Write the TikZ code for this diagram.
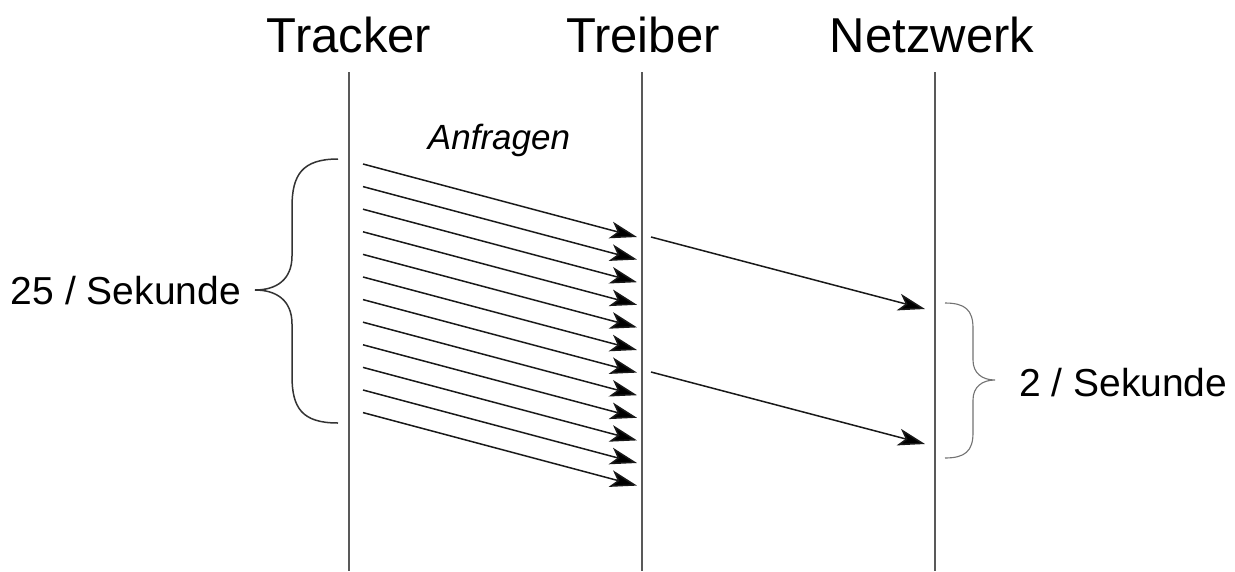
\documentclass[tikz,border=0pt]{standalone}
\usepackage{fontspec}
\setmainfont{Liberation Sans}
\usetikzlibrary{arrows.meta}
\begin{document}
\begin{tikzpicture}[x=1pt,y=-1pt,
  lane/.style={line width=1.6pt,draw=black!65},
  msg/.style={line width=1.5pt,draw=black!90,-{Stealth[length=27pt,width=17pt,inset=7pt,fill=black]}},
  head/.style={font=\fontsize{49}{52}\selectfont,inner sep=0pt},
  rate/.style={font=\fontsize{39}{43}\selectfont,inner sep=0pt},
  bigbrace/.style={line width=1.5pt,draw=black!80},
  smallbrace/.style={line width=1.1pt,draw=black!55}]
  \useasboundingbox[fill=white] (0,0) rectangle (1235,571);

  % column headings and lifelines
  \node[head] (tracker) at (349,35) {Tracker};
  \node[head] (treiber) at (643,35) {Treiber};
  \node[head] (netz) at (932,35) {Netzwerk};
  \foreach \n/\x in {tracker/349,treiber/642,netz/935} {
    \coordinate (\n-top) at (\x,72);
    \coordinate (\n-bot) at (\x,571);
    \draw[lane] (\n-top) -- (\n-bot);
  }

  % requests from tracker to driver
  \node[font=\fontsize{35}{40}\selectfont\itshape,inner sep=0pt] (anfragen) at (499,140) {Anfragen};
  \foreach \i in {0,...,11} {
    \coordinate (a\i) at (363,164+22.6*\i);
    \coordinate (b\i) at (637,237+22.6*\i);
    \draw[msg] (a\i) -- (b\i);
  }

  % forwarded messages from driver to network
  \coordinate (c0) at (651,237);
  \coordinate (d0) at (925,309);
  \coordinate (c1) at (651,372);
  \coordinate (d1) at (925,444);
  \draw[msg] (c0) -- (d0);
  \draw[msg] (c1) -- (d1);

  % left rate brace
  \coordinate (lb-top) at (338,159);
  \coordinate (lb-tip) at (255,290);
  \coordinate (lb-bot) at (338,423);
  \draw[bigbrace] (lb-top) .. controls (302,159) and (292,175) .. (292,207)
    -- (292,256) .. controls (292,280) and (276,290) .. (lb-tip)
    .. controls (276,290) and (292,300) .. (292,324)
    -- (292,376) .. controls (292,408) and (302,423) .. (lb-bot);
  \node[rate,anchor=east] (lrate) at (241,291) {25 / Sekunde};

  % right rate brace
  \coordinate (rb-top) at (945,303);
  \coordinate (rb-tip) at (995,380);
  \coordinate (rb-bot) at (945,458);
  \draw[smallbrace] (rb-top) .. controls (965,303) and (973,310) .. (973,328)
    -- (973,360) .. controls (973,373) and (982,380) .. (rb-tip)
    .. controls (982,380) and (973,387) .. (973,400)
    -- (973,433) .. controls (973,451) and (965,458) .. (rb-bot);
  \node[rate,anchor=west] (rrate) at (1019,383) {2 / Sekunde};
\end{tikzpicture}
\end{document}
